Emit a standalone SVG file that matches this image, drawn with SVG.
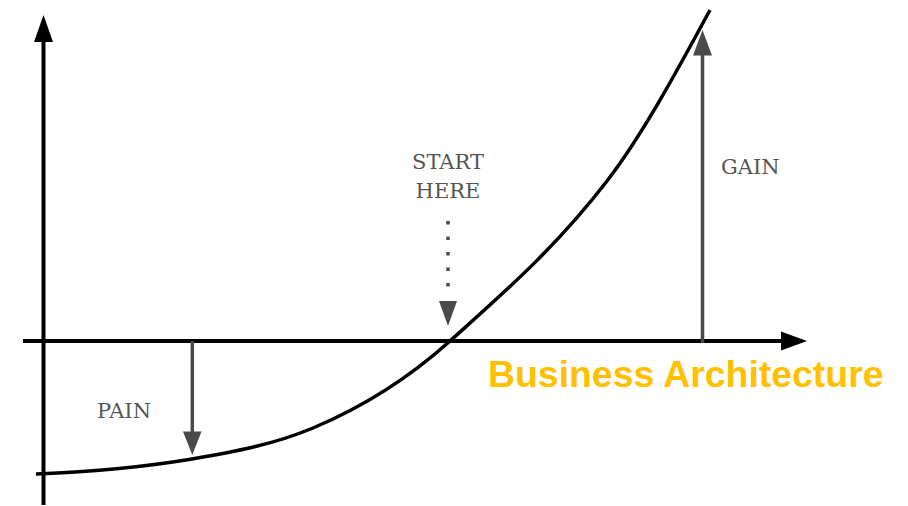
<svg xmlns="http://www.w3.org/2000/svg" width="908" height="506" viewBox="0 0 908 506">
<style>
.axis{stroke:#000;stroke-width:4;fill:none}
.ah{fill:#000}
.g{stroke:#4a4a4a;stroke-width:3.5;fill:none}
.gh{fill:#4a4a4a}
.lbl{font-family:"DejaVu Serif","Liberation Serif",serif;font-size:21px;fill:#555}
.title{font-family:"Liberation Sans",Arial,sans-serif;font-weight:bold;font-size:37.4px;fill:#FFC000}
</style>
<rect width="908" height="506" fill="#fff"/>
<g id="connectors">
<line class="axis" x1="43.5" y1="505" x2="43.5" y2="40"/>
<polygon class="ah" points="43.5,15 34,42 53,42"/>
<line class="axis" x1="23" y1="341" x2="783" y2="341"/>
<polygon class="ah" points="807,341 781,331.5 781,350.5"/>
<path id="curve" d="M36,474 C88,471.9 140,467.8 192,459 C232.3,452.1 272.7,444.9 313,428 C358.7,408.8 404.3,382.1 450,341 C502.3,293.9 554.7,249 607,181 C641.3,136.4 675.7,73.5 710,10" stroke="#000" stroke-width="3.5" fill="none"/>
<line class="g" x1="192.3" y1="341" x2="192.3" y2="434"/>
<polygon class="gh" points="192.3,455 183,431.5 201.5,431.5"/>
<line class="g" x1="702.5" y1="343" x2="702.5" y2="53"/>
<polygon class="gh" points="702.5,30 693,55.5 712,55.5"/>
<line x1="448" y1="221" x2="448" y2="290" stroke="#4a4a4a" stroke-width="3.5" stroke-dasharray="3.5 12"/>
<polygon class="gh" points="448,326 439,301 457,301"/>
</g>
<g id="start-here"><text class="lbl" x="448" y="169" text-anchor="middle">START</text><text class="lbl" x="448" y="198" text-anchor="middle">HERE</text></g>
<g id="gain"><text class="lbl" x="721" y="174">GAIN</text></g>
<g id="pain"><text class="lbl" x="97" y="418">PAIN</text></g>
<g id="business-architecture"><text class="title" x="488" y="387">Business Architecture</text></g>
</svg>
